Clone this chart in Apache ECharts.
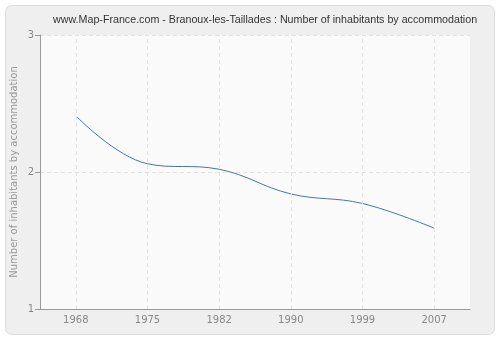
<!DOCTYPE html>
<html><head><meta charset="utf-8">
<script src="https://cdn.jsdelivr.net/npm/echarts@6/dist/echarts.min.js"></script>
<style>html,body{margin:0;padding:0;background:#fff}#c{width:500px;height:340px}</style>
</head><body><div id="c"></div>
<script>
const title = 'www.Map-France.com - Branoux-les-Taillades : Number of inhabitants by accommodation';
const yAxisName = 'Number of inhabitants by accommodation';
const years = ['1968', '1975', '1982', '1990', '1999', '2007'];
const values = [2.41, 2.06, 2.02, 1.84, 1.77, 1.59];
const yTicks = [1, 2, 3];

const chart = echarts.init(document.getElementById('c'), null, {renderer: 'canvas'});
chart.setOption({
  animation: false,
  backgroundColor: '#fff',
  graphic: [{
    type: 'rect', z: -10, silent: true,
    shape: {x: 5.5, y: 5.5, width: 489, height: 329, r: 6},
    style: {fill: '#efefef', stroke: '#dcdcdc', lineWidth: 1}
  }],
  title: {
    text: title, left: 48, top: 10,
    textStyle: {fontFamily: 'Liberation Sans', fontSize: 10.7, fontWeight: 'normal', color: '#333'}
  },
  grid: {left: 40, right: 30, top: 35, bottom: 31, show: true, backgroundColor: '#fafafa', borderWidth: 0, outerBoundsMode: 'none', containLabel: false},
  xAxis: {
    type: 'category', data: years, boundaryGap: true,
    axisLine: {lineStyle: {color: '#999'}},
    axisTick: {alignWithLabel: true, length: 5, lineStyle: {color: '#999'}},
    axisLabel: {color: '#888', fontFamily: 'DejaVu Sans', fontSize: 10, margin: 6},
    splitLine: {show: false}
  },
  yAxis: {
    type: 'value', min: yTicks[0], max: yTicks[yTicks.length - 1], interval: 1,
    name: yAxisName, nameLocation: 'middle', nameGap: 21, nameMoveOverlap: false,
    nameTextStyle: {color: '#999', fontFamily: 'DejaVu Sans', fontSize: 10},
    axisLine: {show: true, lineStyle: {color: '#999'}},
    axisTick: {show: true, length: 5, lineStyle: {color: '#999'}},
    axisLabel: {color: '#888', fontFamily: 'DejaVu Sans', fontSize: 10, margin: 6},
    splitLine: {show: true, lineStyle: {color: '#e2e2e2', type: [4, 3]}}
  },
  series: [{
    type: 'line', data: values, smooth: 0.4, symbol: 'none',
    lineStyle: {color: '#4a76a8', width: 1},
    markLine: {
      silent: true, symbol: 'none', label: {show: false},
      lineStyle: {color: '#e2e2e2', type: [4, 3], width: 1},
      data: years.map(y => ({xAxis: y}))
    }
  }]
});
</script></body></html>
